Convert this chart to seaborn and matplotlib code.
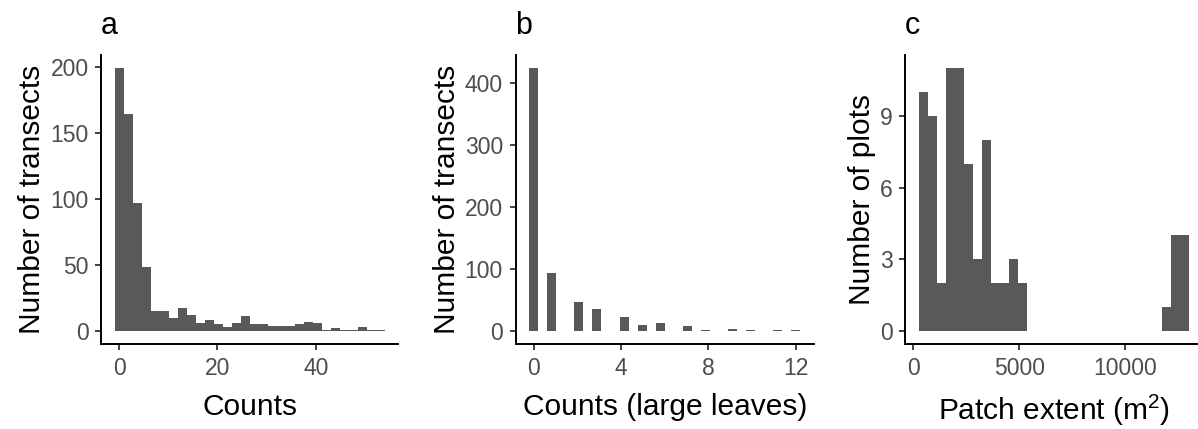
import numpy as np
import pandas as pd
import matplotlib
matplotlib.use("Agg")
import matplotlib.pyplot as plt
import seaborn as sns

# panel a: counts per bin (30 bins spanning the data range)
range_a = (0, 53)
counts_a = [199, 164, 97, 48, 15, 15, 10, 17, 12, 6, 8, 5, 3, 6, 11,
            5, 5, 4, 4, 4, 5, 7, 6, 1, 2, 1, 1, 3, 1, 1]

# panel b: counts of large leaves (integer values)
values_b = [0, 1, 2, 3, 4, 5, 6, 7, 8, 9, 10, 11, 12]
counts_b = [424, 94, 47, 35, 22, 10, 13, 8, 1, 3, 2, 1, 1]
range_b = (0, 12)

# panel c: patch extent per bin
range_c = (450, 12790)
counts_c = [10, 9, 2, 11, 11, 7, 3, 8, 2, 2, 3, 2,
            0, 0, 0, 0, 0, 0, 0, 0, 0, 0, 0, 0, 0, 0, 0,
            1, 4, 4]

bar_col = "#595959"


def gg_edges(lo, hi, n=30):
    # ggplot-style bins: first bin centred on min, last on max
    bw = (hi - lo) / (n - 1)
    return lo - bw / 2 + bw * np.arange(n + 1), bw


sns.set_style("ticks")
plt.rcParams["font.family"] = ["Liberation Sans", "DejaVu Sans"]
plt.rcParams["mathtext.default"] = "regular"

W, H = 1198, 429
fig = plt.figure(figsize=(W / 100, H / 100), dpi=100)

bottom = (H - 344) / H
height = (344 - 55) / H
ax_a = fig.add_axes([101 / W, bottom, 297 / W, height])
ax_b = fig.add_axes([515.5 / W, bottom, 298.5 / W, height])
ax_c = fig.add_axes([905 / W, bottom, 297.5 / W, height])

edges_a, bw_a = gg_edges(*range_a)
df_a = pd.DataFrame({"x": edges_a[:-1] + bw_a / 2, "n": counts_a})
sns.histplot(data=df_a, x="x", weights="n", bins=list(edges_a), element="step",
             fill=True, color=bar_col, alpha=1, linewidth=0, ax=ax_a)

edges_b, bw_b = gg_edges(*range_b)
df_b = pd.DataFrame({"x": values_b, "n": counts_b})
# right-closed bins like ggplot
sns.histplot(data=df_b, x="x", weights="n", bins=list(edges_b + 1e-9),
             element="step", fill=True, color=bar_col, alpha=1, linewidth=0,
             ax=ax_b)

edges_c, bw_c = gg_edges(*range_c)
df_c = pd.DataFrame({"x": edges_c[:-1] + bw_c / 2, "n": counts_c})
sns.histplot(data=df_c, x="x", weights="n", bins=list(edges_c), element="step",
             fill=True, color=bar_col, alpha=1, linewidth=0, ax=ax_c)

setup = [
    (ax_a, edges_a, counts_a, [0, 20, 40], [0, 50, 100, 150, 200],
     "Counts", "Number of transects", "a"),
    (ax_b, edges_b, counts_b, [0, 4, 8, 12], [0, 100, 200, 300, 400],
     "Counts (large leaves)", "Number of transects", "b"),
    (ax_c, edges_c, counts_c, [0, 5000, 10000], [0, 3, 6, 9],
     "Patch extent (m$^{2}$)", "Number of plots", "c"),
]

for ax, edges, counts, xt, yt, xl, yl, tag in setup:
    span = edges[-1] - edges[0]
    ax.set_xlim(edges[0] - 0.05 * span, edges[-1] + 0.05 * span)
    top = max(counts)
    ax.set_ylim(-0.05 * top, 1.05 * top)
    ax.set_xticks(xt)
    ax.set_yticks(yt)
    ax.set_xlabel(xl, fontsize=21.5, labelpad=9, color="black")
    ax.set_ylabel(yl, fontsize=21.5, labelpad=3, color="black")
    ax.tick_params(length=4, width=1.3, color="#333333", labelsize=16.5,
                   labelcolor="#4D4D4D")
    ax.tick_params(axis="x", pad=5.5)
    ax.tick_params(axis="y", pad=5)
    sns.despine(ax=ax)
    for s in ["left", "bottom"]:
        ax.spines[s].set_linewidth(1.4)
        ax.spines[s].set_color("black")
    pos = ax.get_position()
    fig.text(pos.x0, 1 - 33.5 / H, tag, fontsize=22, va="baseline",
             ha="left", color="black")

fig.savefig("out.png", dpi=100)
